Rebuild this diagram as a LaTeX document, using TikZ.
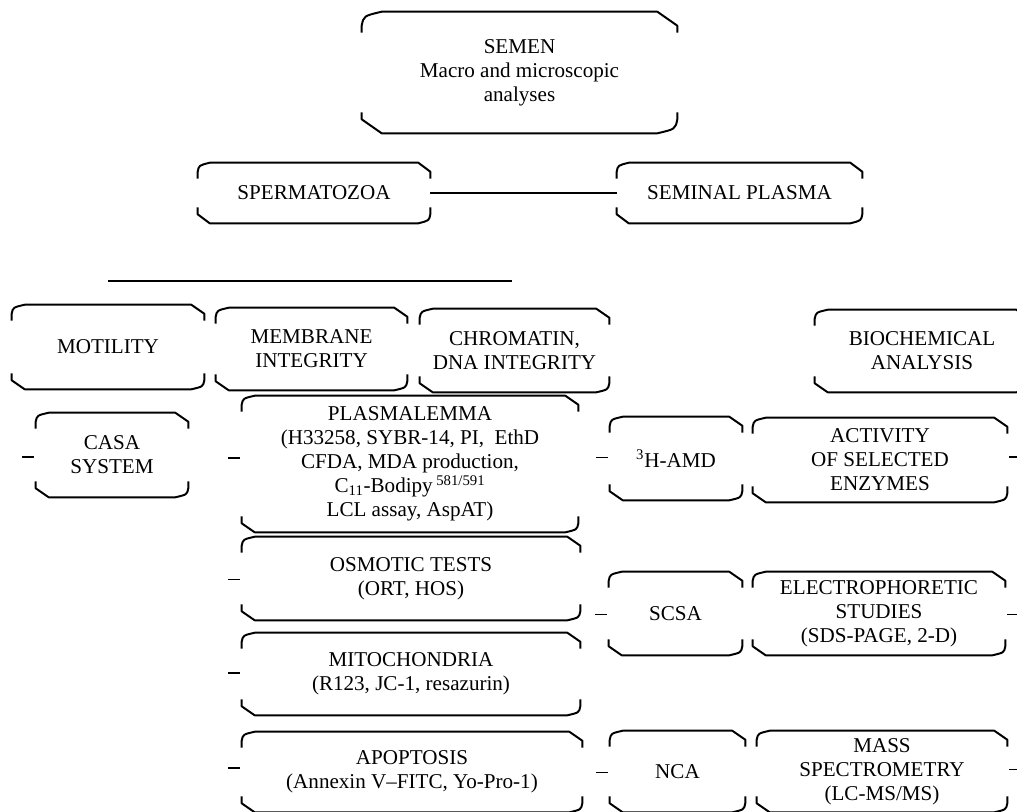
\documentclass[tikz,border=0pt]{standalone}
\usepackage{fontspec}
\setmainfont{Liberation Serif}
\usetikzlibrary{calc,positioning}
\newcommand{\boxfont}{\fontsize{15}{17}\selectfont}

\tikzset{
  box/.style={draw=none, align=center, inner sep=0pt, font=\boxfont},
  capline/.style={line width=1.4pt, line join=round},
  link/.style={line width=1.3pt},
}

\begin{document}
\begin{tikzpicture}[x=0.025cm, y=-0.025cm]
            \useasboundingbox (0,0) rectangle (1017,811);
            \clip (0,0) rectangle (1017,811);

            % top of the tree
            \node[box, minimum width=7.875cm, minimum height=3.025cm] (semen) at (519.5,72.5) {SEMEN\\Macro and microscopic\\analyses};
            \node[box, minimum width=5.8cm, minimum height=1.5cm] (sperm) at (314,193) {SPERMATOZOA};
            \node[box, minimum width=6.125cm, minimum height=1.5cm] (seminal) at (739.5,193) {SEMINAL PLASMA};
            \draw[link] (sperm) -- (seminal);

            \coordinate (barL) at (108,281);
            \coordinate (barR) at (512,281);
            \draw[link] (barL) -- (barR);

            % headings
            \node[box, minimum width=4.8cm, minimum height=2.1cm] (motility) at (108,347) {MOTILITY};
            \node[box, minimum width=4.775cm, minimum height=2.05cm] (membrane) at (311.5,349) {MEMBRANE\\INTEGRITY};
            \node[box, minimum width=4.725cm, minimum height=2.075cm] (chromatin) at (514.5,350.5) {CHROMATIN,\\DNA INTEGRITY};
            \node[box, minimum width=5.35cm, minimum height=2.05cm] (biochem) at (922,351) {BIOCHEMICAL\\ANALYSIS};

            % methods
            \node[box, minimum width=3.8cm, minimum height=2.1cm] (casa) at (112,455) {CASA\\SYSTEM};
            \node[box, minimum width=8.4cm, minimum height=3.4cm] (plasma) at (410,464) {PLASMALEMMA\\(H33258, SYBR-14, PI,\ \ EthD\\CFDA, MDA production,\\C\textsubscript{11}-Bodipy\,\textsuperscript{581/591}\\LCL assay, AspAT)};
            \node[box, minimum width=8.45cm, minimum height=2.075cm] (osmotic) at (411,578.5) {OSMOTIC TESTS\\(ORT, HOS)};
            \node[box, minimum width=8.45cm, minimum height=2.05cm] (mito) at (411,674) {MITOCHONDRIA\\(R123, JC-1, resazurin)};
            \node[box, minimum width=8.5cm, minimum height=2.0cm] (apopt) at (412,772) {APOPTOSIS\\(Annexin V--FITC, Yo-Pro-1)};

            \node[box, minimum width=3.3cm, minimum height=2.075cm] (amd) at (676,458.5) {\textsuperscript{3}H-AMD};
            \node[box, minimum width=3.325cm, minimum height=2.075cm] (scsa) at (675.5,613.5) {SCSA};
            \node[box, minimum width=3.375cm, minimum height=2.025cm] (nca) at (677.5,771.5) {NCA};

            \node[box, minimum width=6.35cm, minimum height=2.1cm] (activity) at (880,460) {ACTIVITY\\OF SELECTED\\ENZYMES};
            \node[box, minimum width=6.3cm, minimum height=2.075cm] (electro) at (879,613.5) {ELECTROPHORETIC\\STUDIES\\(SDS-PAGE, 2-D)};
            \node[box, minimum width=6.25cm, minimum height=2.025cm] (mass) at (882,771.5) {MASS\\SPECTROMETRY\\(LC-MS/MS)};

            % clipped-corner outlines
            \foreach \n/\c/\d in {semen/20/14, sperm/12/9, seminal/12/9, motility/13/9, membrane/13/9,
                                  chromatin/13/9, biochem/13/9, casa/13/9, plasma/13/9, osmotic/13/9,
                                  mito/13/9, apopt/13/9, amd/13/9, scsa/13/9, nca/13/9,
                                  activity/13/9, electro/13/9, mass/13/9} {
              \draw[capline] ($(\n.north west)+(0,\d+7)$) -- ($(\n.north west)+(0,\d)$)
                .. controls ($(\n.north west)+(0.1*\c,0.3*\d)$) .. ($(\n.north west)+(\c,0)$)
                -- ($(\n.north east)+(-\c,0)$) -- ($(\n.north east)+(0,\d)$) -- ++(0,7);
              \draw[capline] ($(\n.south west)+(0,-\d-7)$) -- ($(\n.south west)+(0,-\d)$)
                -- ($(\n.south west)+(\c,0)$) -- ($(\n.south east)+(-\c,0)$)
                .. controls ($(\n.south east)+(-0.1*\c,-0.3*\d)$) .. ($(\n.south east)+(0,-\d)$) -- ++(0,-7);
            }

            % loose ticks
            \foreach \n/\dy in {casa/2, plasma/-6, osmotic/1, mito/-1, apopt/-4, amd/-1, scsa/1, nca/1}
              \draw[link] ($(\n.west)+(-2,\dy)$) -- ++(-12,0);
            \foreach \n/\dy in {activity/-3, electro/1, mass/-2}
              \draw[link] ($(\n.east)+(2,\dy)$) -- ++(12,0);

\end{tikzpicture}
\end{document}
